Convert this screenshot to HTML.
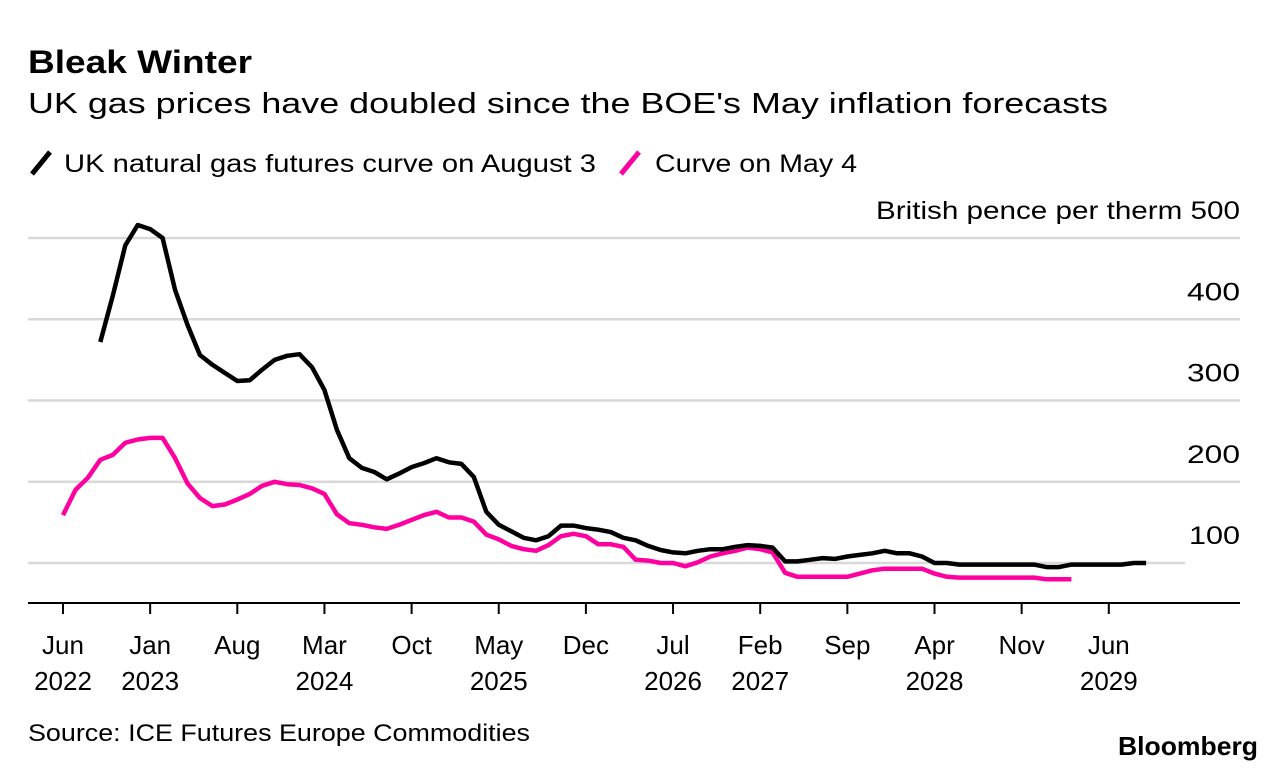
<!DOCTYPE html>
<html><head><meta charset="utf-8"><style>
body{margin:0;background:#fff;font-family:"Liberation Sans",sans-serif;}
svg text{font-family:"Liberation Sans",sans-serif;}
</style></head><body>
<svg width="1286" height="772" viewBox="0 0 1286 772">
<text x="28" y="73" font-size="32" font-weight="bold" fill="#000" textLength="224" lengthAdjust="spacingAndGlyphs">Bleak Winter</text>
<text x="28" y="113" font-size="29" fill="#000" textLength="1080" lengthAdjust="spacingAndGlyphs">UK gas prices have doubled since the BOE's May inflation forecasts</text>
<g>
<line x1="32" y1="174" x2="50" y2="152" stroke="#000" stroke-width="5"/>
<text x="64" y="172" font-size="25" textLength="532" lengthAdjust="spacingAndGlyphs">UK natural gas futures curve on August 3</text>
<line x1="621" y1="174" x2="639" y2="152" stroke="#ff00a0" stroke-width="5"/>
<text x="655" y="172" font-size="25" textLength="202" lengthAdjust="spacingAndGlyphs">Curve on May 4</text>
</g>
<g id="grid"></g>
<g id="xaxis"></g>
<g id="series"></g>
<text x="28" y="741" font-size="24" textLength="502" lengthAdjust="spacingAndGlyphs">Source: ICE Futures Europe Commodities</text>
<text x="1118" y="755" font-size="26" font-weight="bold" textLength="140" lengthAdjust="spacingAndGlyphs">Bloomberg</text>
</svg>
<script>
const yTicks = [100, 200, 300, 400, 500];
const xTickMonths = [0, 7, 14, 21, 28, 35, 42, 49, 56, 63, 70, 77, 84];
const xTickMonth = ["Jun","Jan","Aug","Mar","Oct","May","Dec","Jul","Feb","Sep","Apr","Nov","Jun"];
const xTickYear = ["2022","2023","","2024","","2025","","2026","2027","","2028","","2029"];
const augStart = 3;
const augValues = [372,429,491,516,511,500,436,393,356,344,334,324,325,338,350,355,357,341,313,264,229,217,212,203,210,218,223,229,224,222,206,163,147,139,131,128,133,146,146,143,141,138,131,128,121,116,113,112,115,117,117,120,122,121,119,102,102,104,106,105,108,110,112,115,112,112,108,100,100,98,98,98,98,98,98,98,95,95,98,98,98,98,98,100,100];
const mayStart = 0;
const mayValues = [159,190,205,227,233,248,252,254,254,229,198,180,170,172,178,185,195,200,197,196,192,185,160,149,147,144,142,147,153,159,163,156,156,151,135,129,121,117,115,122,133,136,133,123,123,120,104,103,100,100,96,101,108,112,115,119,117,113,88,83,83,83,83,83,87,91,93,93,93,93,87,83,82,82,82,82,82,82,82,80,80,80];

const NS = "http://www.w3.org/2000/svg";
const xS = m => 63 + m * 12.45;
const yS = v => 563 - (v - 100) * 0.8125;
function mk(tag, attrs, parent){const e=document.createElementNS(NS,tag);for(const k in attrs)e.setAttribute(k,attrs[k]);parent.appendChild(e);return e;}
const grid = document.getElementById('grid');
yTicks.forEach(v=>{
  const l = mk('line',{x1:28,x2:v===100?1185:1240,y1:yS(v),y2:yS(v),stroke:'#d8d8d8','stroke-width':2.5},grid);
  
  
  const attrs = {x:1240,y:yS(v)-19,'font-size':25,'text-anchor':'end'};
  if(v===500){attrs.textLength=364;attrs.lengthAdjust='spacingAndGlyphs';}
  else {attrs.textLength=v===100?51:53;attrs.lengthAdjust='spacingAndGlyphs';}
  const t = mk('text',attrs,grid);
  t.textContent = v===500 ? 'British pence per therm 500' : String(v);
  
  
});
const xa = document.getElementById('xaxis');
const ax = mk('line',{x1:28,x2:1240,y1:603,y2:603,stroke:'#000','stroke-width':2},xa);


xTickMonths.forEach((m,i)=>{
  const tk = mk('line',{x1:xS(m),x2:xS(m),y1:603,y2:614,stroke:'#000','stroke-width':2},xa);
  
  
  const t = mk('text',{x:xS(m),y:654,'font-size':26,'text-anchor':'middle'},xa);
  t.textContent = xTickMonth[i];
  
  
  if(xTickYear[i]){
    const t2 = mk('text',{x:xS(m),y:690,'font-size':26,'text-anchor':'middle'},xa);
    t2.textContent = xTickYear[i];
    
    
  }
});
const sg = document.getElementById('series');
function line(vals,start,color,name){
  const d = vals.map((v,i)=>(i?'L':'M')+xS(start+i).toFixed(1)+','+yS(v).toFixed(1)).join(' ');
  const p = mk('path',{d:d,fill:'none',stroke:color,'stroke-width':4.5,'stroke-linejoin':'round'},sg);
  
  
}
line(mayValues,mayStart,'#ff00a0','may-4-curve-line');
line(augValues,augStart,'#000','august-3-curve-line');
</script>
</body></html>
